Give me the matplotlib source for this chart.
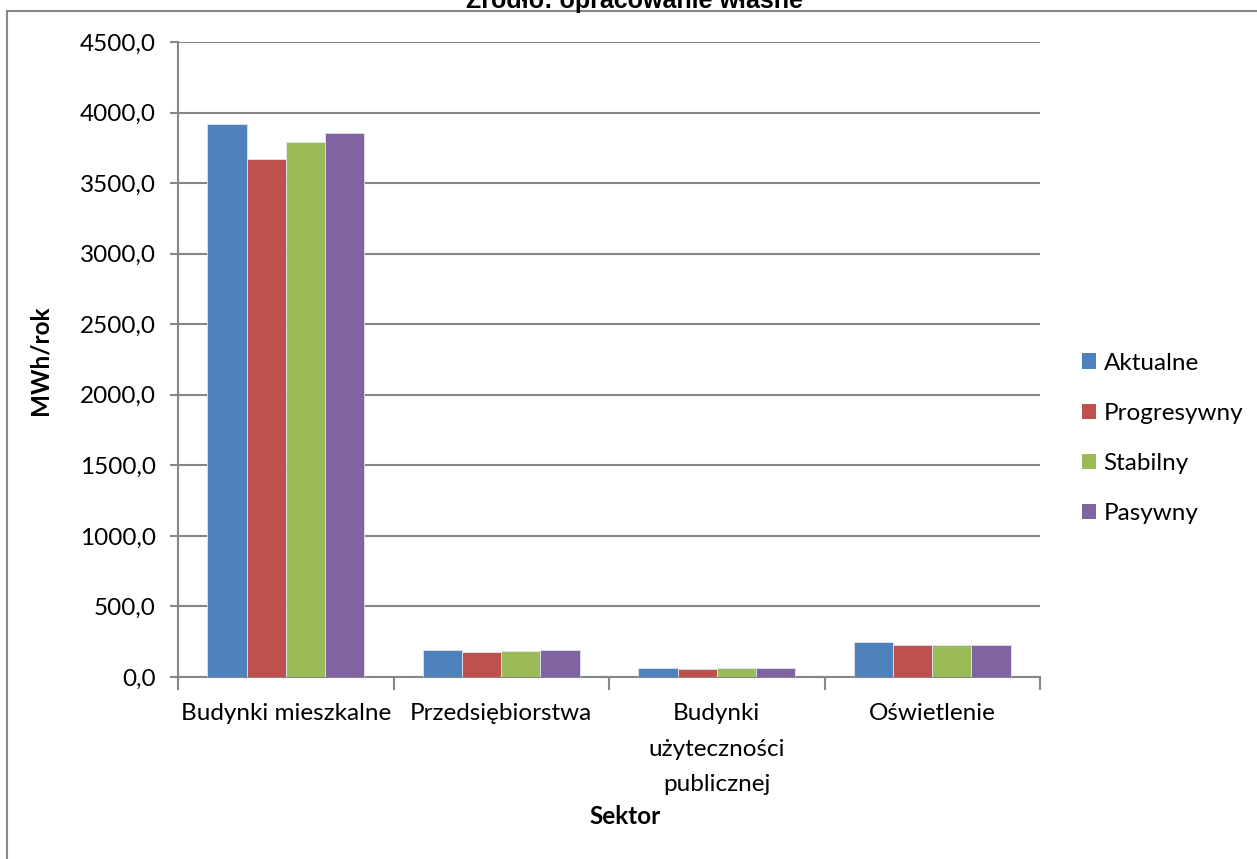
import numpy as np
import matplotlib.pyplot as plt
from matplotlib.patches import Rectangle, Patch

# dane: zużycie energii w sektorach wg scenariuszy
sektory = ["Budynki mieszkalne", "Przedsiębiorstwa",
           "Budynki\nużyteczności\npublicznej", "Oświetlenie"]
scenariusze = ["Aktualne", "Progresywny", "Stabilny", "Pasywny"]
aktualne = [3917.0, 188.0, 61.0, 251.0]
progresywny = [3672.0, 179.0, 54.0, 225.0]
stabilny = [3793.0, 183.0, 61.0, 225.0]
pasywny = [3856.0, 188.0, 61.0, 225.0]
yticks = [0, 500, 1000, 1500, 2000, 2500, 3000, 3500, 4000, 4500]

kolory = ["#4F81BD", "#C0504D", "#9BBB59", "#8064A2"]
serie = [aktualne, progresywny, stabilny, pasywny]

plt.rcParams['font.family'] = ['Lato', 'DejaVu Sans']
szary = "#868686"
fs = 17.5

fig = plt.figure(figsize=(12.57, 8.59), dpi=100)
# ramka wykresu
fig.patches.append(Rectangle((7 / 1257, -0.1), 1.1, 1 - 11 / 859 + 0.1,
                             transform=fig.transFigure, fill=False,
                             edgecolor=szary, linewidth=1.5))
fig.text(634 / 1257, 1 - 8 / 859, "Źródło: opracowanie własne",
         family='Liberation Sans', fontweight='bold', fontsize=18,
         ha='center', va='baseline')

ax = fig.add_axes([178 / 1257, 1 - 677 / 859, (1040 - 178) / 1257, (677 - 42) / 859])

x = np.arange(len(sektory))
w = 1 / 5.5
for i, (dane, kol) in enumerate(zip(serie, kolory)):
    ax.bar(x + (i - 1.5) * w, dane, width=w, color=kol,
           edgecolor="#dce6f2", linewidth=0.6, label=scenariusze[i], zorder=3)

ax.set_xlim(-0.5, len(sektory) - 0.5)
ax.set_ylim(0, 4500)
ax.set_yticks(yticks)
ax.set_yticklabels([f"{v:.1f}".replace(".", ",") for v in yticks], fontsize=fs)
ax.set_xticks(x)
ax.set_xticklabels(sektory, fontsize=fs, linespacing=1.85, va='top')
ax.set_xticks(np.arange(-0.5, len(sektory)), minor=True)
ax.tick_params(axis='x', which='major', length=0, pad=19)
ax.tick_params(axis='x', which='minor', length=9, width=1.5, color=szary)
ax.tick_params(axis='y', length=6, width=1.5, color=szary, pad=10)

ax.grid(axis='y', color=szary, linewidth=1.5, zorder=0)
ax.set_axisbelow(True)
for s in ['top', 'right']:
    ax.spines[s].set_visible(False)
for s in ['left', 'bottom']:
    ax.spines[s].set_color(szary)
    ax.spines[s].set_linewidth(1.5)

fig.text(625 / 1257, 1 - 817 / 859, "Sektor", fontsize=fs, fontweight='bold',
         ha='center', va='center')
fig.text(40 / 1257, 1 - 360 / 859, "MWh/rok", fontsize=fs, fontweight='bold',
         rotation=90, ha='center', va='center')

uchwyty = [Patch(facecolor=k, edgecolor='none') for k in kolory]
fig.legend(uchwyty, scenariusze, loc='upper left',
           bbox_to_anchor=(1072 / 1257, 1 - 343 / 859), frameon=False,
           fontsize=fs, handlelength=0.6, handleheight=0.6,
           handletextpad=0.3, labelspacing=1.2, borderaxespad=0)

fig.savefig("out.png", dpi=100)
